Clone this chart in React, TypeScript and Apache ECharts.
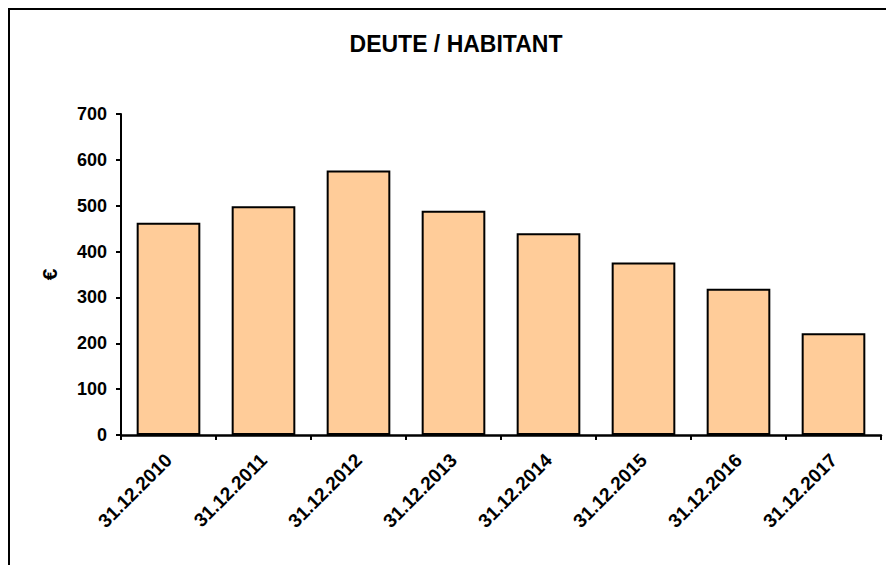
import React, { useEffect, useRef } from "react";
import * as echarts from "echarts";

const categories = [
  "31.12.2010",
  "31.12.2011",
  "31.12.2012",
  "31.12.2013",
  "31.12.2014",
  "31.12.2015",
  "31.12.2016",
  "31.12.2017",
];
const debtPerInhabitant = [463, 499, 577, 489, 440, 376, 319, 222];
const titleText = "DEUTE / HABITANT";
const yAxisName = "€";

const FONT = "'Liberation Sans', Arial, sans-serif";

export default function App() {
  const ref = useRef<HTMLDivElement>(null);
  useEffect(() => {
    if (!ref.current) return;
    const chart = echarts.init(ref.current, null, { renderer: "svg" });
    chart.setOption({
      animation: false,
      backgroundColor: "#ffffff",
      graphic: [
        {
          type: "rect",
          shape: { x: 1, y: 1, width: 2000, height: 2000 },
          style: { fill: "none", stroke: "#000", lineWidth: 2 },
          silent: true,
        },
        {
          type: "text",
          x: 448,
          y: 36,
          style: {
            text: titleText,
            fontFamily: FONT,
            fontWeight: "bold",
            fontSize: 23,
            fill: "#000",
            align: "center",
            verticalAlign: "middle",
          },
        },
      ],
      grid: { left: 113, top: 106, right: 13, bottom: 130, containLabel: false },
      xAxis: {
        type: "category",
        data: categories,
        boundaryGap: true,
        axisLine: { lineStyle: { color: "#000", width: 2.5 } },
        axisTick: { show: true, length: 5, alignWithLabel: false, lineStyle: { color: "#000", width: 2 } },
        axisLabel: {
          rotate: 45,
          margin: 22,
          interval: 0,
          color: "#000",
          fontFamily: FONT,
          fontWeight: "bold",
          fontSize: 19,
        },
        splitLine: { show: false },
      },
      yAxis: {
        type: "value",
        min: 0,
        max: 700,
        interval: 100,
        name: yAxisName,
        nameLocation: "middle",
        nameRotate: 90,
        nameGap: 61,
        nameTextStyle: { color: "#000", fontFamily: FONT, fontWeight: "bold", fontSize: 21 },
        axisLine: { show: true, lineStyle: { color: "#000", width: 2 } },
        axisTick: { show: true, length: 5, inside: false, lineStyle: { color: "#000", width: 2 } },
        axisLabel: {
          margin: 14,
          color: "#000",
          fontFamily: FONT,
          fontWeight: "bold",
          fontSize: 18,
        },
        splitLine: { show: false },
      },
      series: [
        {
          type: "bar",
          data: debtPerInhabitant,
          barCategoryGap: "33%",
          itemStyle: { color: "#FFCC99", borderColor: "#000", borderWidth: 2 },
        },
      ],
    });
    return () => chart.dispose();
  }, []);
  return <div ref={ref} style={{ width: 886, height: 557 }} />;
}
